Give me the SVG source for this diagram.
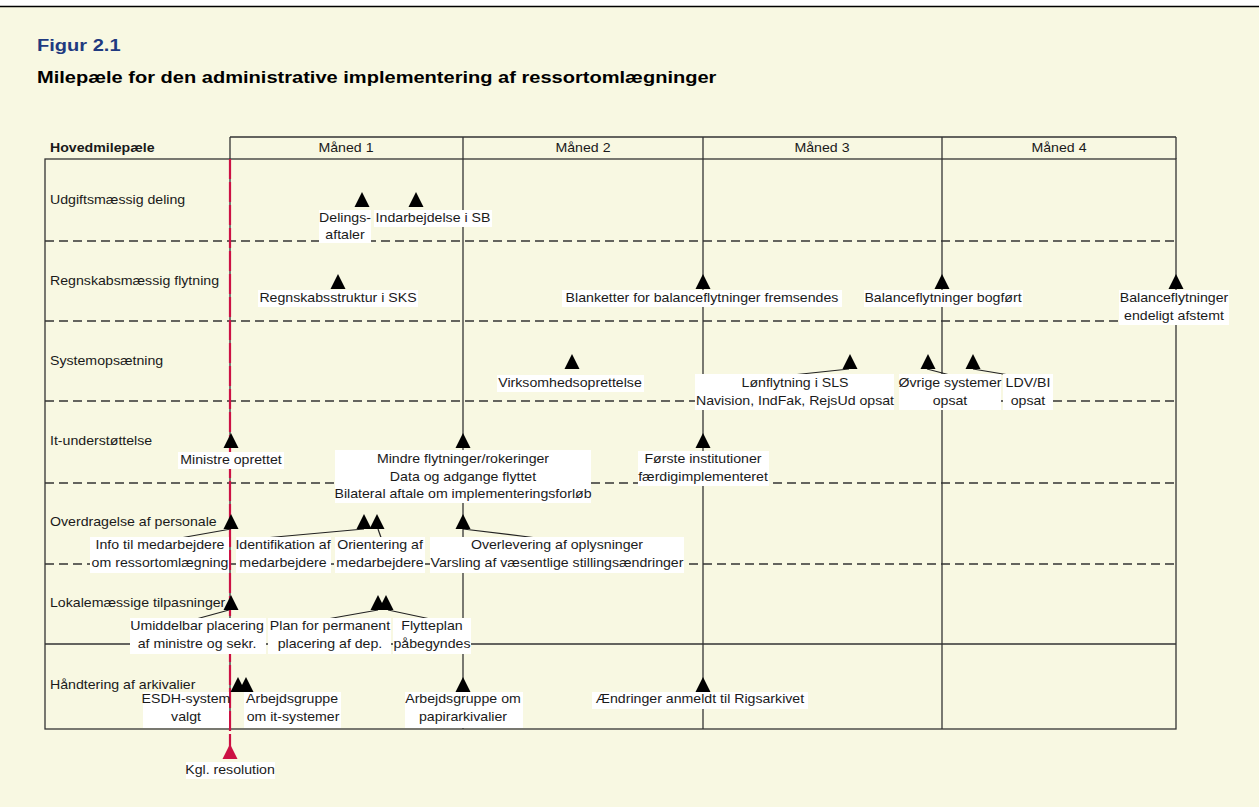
<svg xmlns="http://www.w3.org/2000/svg" width="1259" height="807" viewBox="0 0 1259 807">
<style>
.t{font-family:"Liberation Sans",Arial,sans-serif;font-size:12px;fill:#1a1a1a}
.c{text-anchor:middle}
.b{font-weight:bold}
.ttl{font-family:"Liberation Sans",Arial,sans-serif;font-size:17px;font-weight:bold}
.box{fill:#fff}
.tri{fill:#000}
.solid{stroke:#333;stroke-width:1.3;fill:none}
.dash{stroke:#333;stroke-width:1.3;stroke-dasharray:9 5;fill:none}
.conn{stroke:#222;stroke-width:1.2}
</style>
<defs>
<path id="tri" d="M0 0 L7.5 15 L-7.5 15 Z"/>
</defs>
<rect width="1259" height="807" fill="#F8F8E2"/>
<rect width="1259" height="6" fill="#fff"/>
<line x1="0" y1="6.5" x2="1259" y2="6.5" stroke="#000" stroke-width="1.3"/>
<text class="ttl" fill="#1F3A80" transform="translate(37 51) scale(1.18 1)">Figur 2.1</text>
<text class="ttl" fill="#000" transform="translate(37 83) scale(1.18 1)">Milepæle for den administrative implementering af ressortomlægninger</text>

<g id="grid">
<line class="solid" x1="230" y1="137" x2="1176" y2="137"/>
<rect class="solid" x="45" y="159" width="1131" height="570"/>
<line class="solid" x1="1176" y1="137" x2="1176" y2="159"/>
<line class="solid" x1="230" y1="137" x2="230" y2="729"/>
<line class="solid" x1="463" y1="137" x2="463" y2="729"/>
<line class="solid" x1="703" y1="137" x2="703" y2="729"/>
<line class="solid" x1="942" y1="137" x2="942" y2="729"/>
<line class="dash" x1="45" y1="241" x2="1176" y2="241"/>
<line class="dash" x1="45" y1="321" x2="1176" y2="321"/>
<line class="dash" x1="45" y1="401" x2="1176" y2="401"/>
<line class="dash" x1="45" y1="483" x2="1176" y2="483"/>
<line class="dash" x1="45" y1="564" x2="1176" y2="564"/>
<line class="solid" x1="45" y1="644" x2="1176" y2="644"/>
<text class="t b" transform="translate(50 152) scale(1.18 1)">Hovedmilepæle</text>
<text class="t c" transform="translate(346 152) scale(1.18 1)">Måned 1</text>
<text class="t c" transform="translate(583 152) scale(1.18 1)">Måned 2</text>
<text class="t c" transform="translate(822 152) scale(1.18 1)">Måned 3</text>
<text class="t c" transform="translate(1059 152) scale(1.18 1)">Måned 4</text>
<text class="t" transform="translate(50 204) scale(1.18 1)">Udgiftsmæssig deling</text>
<text class="t" transform="translate(50 285) scale(1.18 1)">Regnskabsmæssig flytning</text>
<text class="t" transform="translate(50 365) scale(1.18 1)">Systemopsætning</text>
<text class="t" transform="translate(50 445) scale(1.18 1)">It-understøttelse</text>
<text class="t" transform="translate(50 526) scale(1.18 1)">Overdragelse af personale</text>
<text class="t" transform="translate(50 607) scale(1.18 1)">Lokalemæssige tilpasninger</text>
<text class="t" transform="translate(50 689) scale(1.18 1)">Håndtering af arkivalier</text>
</g>

<g id="kgl-line">
<line x1="230" y1="159" x2="230" y2="748" stroke="#CC1144" stroke-width="2.2" stroke-dasharray="20 3"/>
</g>

<g id="connectors">
<line class="conn" x1="849" y1="369" x2="797" y2="374.5"/>
<line class="conn" x1="927" y1="369" x2="948" y2="374.5"/>
<line class="conn" x1="973" y1="369" x2="1006" y2="374.5"/>
<line class="conn" x1="231" y1="529" x2="183" y2="537.5"/>
<line class="conn" x1="364" y1="529" x2="270" y2="537.5"/>
<line class="conn" x1="378" y1="529" x2="381" y2="537.5"/>
<line class="conn" x1="463" y1="529" x2="533" y2="537.5"/>
<line class="conn" x1="229" y1="610" x2="198" y2="618.5"/>
<line class="conn" x1="378" y1="610" x2="330" y2="618.5"/>
<line class="conn" x1="388" y1="610" x2="428" y2="618.5"/>
</g>

<g id="n-delingsaftaler">
<rect class="box" x="319" y="210" width="52" height="33"/>
<use href="#tri" class="tri" x="362" y="192"/>
<text class="t c" transform="translate(345 222) scale(1.18 1)">Delings-</text>
<text class="t c" transform="translate(345 239) scale(1.18 1)">aftaler</text>
</g>
<g id="n-indarbejdelse">
<rect class="box" x="374" y="210" width="118" height="17"/>
<use href="#tri" class="tri" x="416" y="192"/>
<text class="t c" transform="translate(433 222) scale(1.18 1)">Indarbejdelse i SB</text>
</g>

<g id="n-regnskabsstruktur">
<rect class="box" x="258" y="290" width="160" height="17"/>
<use href="#tri" class="tri" x="338" y="274"/>
<text class="t c" transform="translate(338 302) scale(1.18 1)">Regnskabsstruktur i SKS</text>
</g>
<g id="n-blanketter">
<rect class="box" x="562" y="290" width="280" height="17"/>
<use href="#tri" class="tri" x="703" y="274"/>
<text class="t c" transform="translate(702 302) scale(1.18 1)">Blanketter for balanceflytninger fremsendes</text>
</g>
<g id="n-bogfoert">
<rect class="box" x="864" y="290" width="159" height="17"/>
<use href="#tri" class="tri" x="942" y="274"/>
<text class="t c" transform="translate(943 302) scale(1.18 1)">Balanceflytninger bogført</text>
</g>
<g id="n-afstemt">
<rect class="box" x="1119" y="290" width="110" height="35"/>
<use href="#tri" class="tri" x="1176" y="274"/>
<text class="t c" transform="translate(1174 302) scale(1.18 1)">Balanceflytninger</text>
<text class="t c" transform="translate(1174 320) scale(1.18 1)">endeligt afstemt</text>
</g>

<g id="n-virksomhed">
<rect class="box" x="497" y="375" width="147" height="17"/>
<use href="#tri" class="tri" x="572" y="354"/>
<text class="t c" transform="translate(570 387) scale(1.18 1)">Virksomhedsoprettelse</text>
</g>
<g id="n-loen">
<rect class="box" x="695" y="374" width="199" height="36"/>
<use href="#tri" class="tri" x="850" y="354"/>
<text class="t c" transform="translate(795 387) scale(1.18 1)">Lønflytning i SLS</text>
<text class="t c" transform="translate(795 405) scale(1.18 1)">Navision, IndFak, RejsUd opsat</text>
</g>
<g id="n-oevrige">
<rect class="box" x="899" y="374" width="102" height="36"/>
<use href="#tri" class="tri" x="928" y="354"/>
<text class="t c" transform="translate(950 387) scale(1.18 1)">Øvrige systemer</text>
<text class="t c" transform="translate(950 405) scale(1.18 1)">opsat</text>
</g>
<g id="n-ldv">
<rect class="box" x="1003" y="374" width="50" height="36"/>
<use href="#tri" class="tri" x="973" y="354"/>
<text class="t c" transform="translate(1028 387) scale(1.18 1)">LDV/BI</text>
<text class="t c" transform="translate(1028 405) scale(1.18 1)">opsat</text>
</g>

<g id="n-ministre">
<rect class="box" x="178" y="452" width="106" height="17"/>
<use href="#tri" class="tri" x="231" y="433"/>
<text class="t c" transform="translate(231 464) scale(1.18 1)">Ministre oprettet</text>
</g>
<g id="n-mindre">
<rect class="box" x="335" y="450" width="256" height="53"/>
<use href="#tri" class="tri" x="463" y="433"/>
<text class="t c" transform="translate(463 463) scale(1.18 1)">Mindre flytninger/rokeringer</text>
<text class="t c" transform="translate(463 481) scale(1.18 1)">Data og adgange flyttet</text>
<text class="t c" transform="translate(463 498) scale(1.18 1)">Bilateral aftale om implementeringsforløb</text>
</g>
<g id="n-foerste">
<rect class="box" x="638" y="451" width="131" height="35"/>
<use href="#tri" class="tri" x="703" y="433"/>
<text class="t c" transform="translate(703 463) scale(1.18 1)">Første institutioner</text>
<text class="t c" transform="translate(703 481) scale(1.18 1)">færdigimplementeret</text>
</g>

<g id="n-info">
<rect class="box" x="90" y="537" width="139" height="36"/>
<use href="#tri" class="tri" x="231" y="514"/>
<text class="t c" transform="translate(160 549) scale(1.18 1)">Info til medarbejdere</text>
<text class="t c" transform="translate(160 567) scale(1.18 1)">om ressortomlægning</text>
</g>
<g id="n-identifikation">
<rect class="box" x="236" y="537" width="95" height="36"/>
<use href="#tri" class="tri" x="364" y="514"/>
<text class="t c" transform="translate(283 549) scale(1.18 1)">Identifikation af</text>
<text class="t c" transform="translate(283 567) scale(1.18 1)">medarbejdere</text>
</g>
<g id="n-orientering">
<rect class="box" x="335" y="537" width="90" height="36"/>
<use href="#tri" class="tri" x="377" y="514"/>
<text class="t c" transform="translate(380 549) scale(1.18 1)">Orientering af</text>
<text class="t c" transform="translate(380 567) scale(1.18 1)">medarbejdere</text>
</g>
<g id="n-overlevering">
<rect class="box" x="430" y="537" width="254" height="36"/>
<use href="#tri" class="tri" x="463" y="514"/>
<text class="t c" transform="translate(557 549) scale(1.18 1)">Overlevering af oplysninger</text>
<text class="t c" transform="translate(557 567) scale(1.18 1)">Varsling af væsentlige stillingsændringer</text>
</g>

<g id="n-umiddelbar">
<rect class="box" x="130" y="618" width="136" height="36"/>
<use href="#tri" class="tri" x="231" y="595"/>
<text class="t c" transform="translate(197 630) scale(1.18 1)">Umiddelbar placering</text>
<text class="t c" transform="translate(197 648) scale(1.18 1)">af ministre og sekr.</text>
</g>
<g id="n-plan">
<rect class="box" x="268" y="618" width="123" height="36"/>
<use href="#tri" class="tri" x="378" y="595"/>
<text class="t c" transform="translate(330 630) scale(1.18 1)">Plan for permanent</text>
<text class="t c" transform="translate(330 648) scale(1.18 1)">placering af dep.</text>
</g>
<g id="n-flytteplan">
<rect class="box" x="393" y="618" width="78" height="36"/>
<use href="#tri" class="tri" x="386" y="595"/>
<text class="t c" transform="translate(432 630) scale(1.18 1)">Flytteplan</text>
<text class="t c" transform="translate(432 648) scale(1.18 1)">påbegyndes</text>
</g>

<g id="n-esdh">
<rect class="box" x="143" y="692" width="86" height="36"/>
<use href="#tri" class="tri" x="238" y="677"/>
<text class="t c" transform="translate(186 703) scale(1.18 1)">ESDH-system</text>
<text class="t c" transform="translate(186 721) scale(1.18 1)">valgt</text>
</g>
<g id="n-arbejdsgruppe-it">
<rect class="box" x="244" y="692" width="97" height="36"/>
<use href="#tri" class="tri" x="246" y="677"/>
<text class="t c" transform="translate(292 703) scale(1.18 1)">Arbejdsgruppe</text>
<text class="t c" transform="translate(293 721) scale(1.18 1)">om it-systemer</text>
</g>
<g id="n-papir">
<rect class="box" x="405" y="692" width="118" height="36"/>
<use href="#tri" class="tri" x="463" y="677"/>
<text class="t c" transform="translate(463 703) scale(1.18 1)">Arbejdsgruppe om</text>
<text class="t c" transform="translate(463 721) scale(1.18 1)">papirarkivalier</text>
</g>
<g id="n-aendringer">
<rect class="box" x="592" y="692" width="216" height="17"/>
<use href="#tri" class="tri" x="703" y="677"/>
<text class="t c" transform="translate(700 703) scale(1.18 1)">Ændringer anmeldt til Rigsarkivet</text>
</g>

<g id="n-kgl">
<rect class="box" x="186" y="762" width="89" height="17"/>
<use href="#tri" x="230" y="744" fill="#CC1144"/>
<text class="t c" transform="translate(230 774) scale(1.18 1)">Kgl. resolution</text>
</g>
</svg>
